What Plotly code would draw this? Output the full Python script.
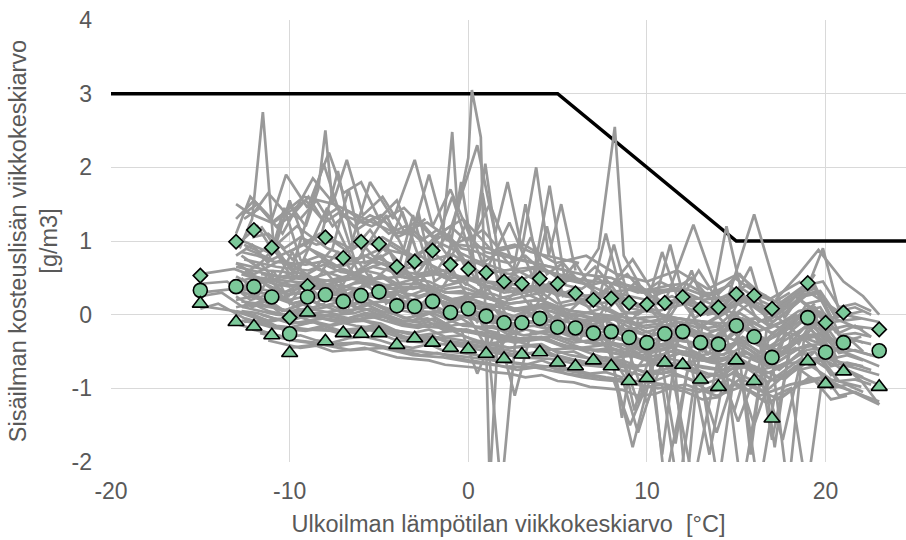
import plotly.graph_objects as go

# Raja-arvokäyrä (kosteuslisä, g/m3) ulkolämpötilan funktiona
raja_t = [-20, 5, 15, 25]
raja_g = [3, 3, 1, 1]

# Akselien jaotus
x_arvot = [-20, -10, 0, 10, 20]
x_tekstit = ["-20", "-10", "0", "10", "20"]
y_arvot = [-2, -1, 0, 1, 2, 3, 4]
y_tekstit = ["-2", "-1", "0", "1", "2", "3", "4"]

# Viikkotilastot: lämpötila-luokat ja yläraja / keskiarvo / alaraja
tilasto_t = [-15, -13, -12, -11, -10, -9, -8, -7, -6, -5, -4, -3, -2, -1, 0, 1, 2, 3, 4, 5,
             6, 7, 8, 9, 10, 11, 12, 13, 14, 15, 16, 17, 19, 20, 21, 23]
yla = [0.53, 0.99, 1.15, 0.91, -0.04, 0.39, 1.05, 0.77, 0.99, 0.96, 0.65, 0.72, 0.87, 0.68,
       0.62, 0.57, 0.45, 0.42, 0.49, 0.42, 0.29, 0.20, 0.22, 0.16, 0.14, 0.16, 0.24, 0.08,
       0.10, 0.28, 0.26, 0.08, 0.43, -0.11, 0.03, -0.20]
keski = [0.33, 0.38, 0.38, 0.24, -0.26, 0.24, 0.27, 0.18, 0.26, 0.31, 0.12, 0.11, 0.18, 0.03,
         0.08, -0.02, -0.11, -0.11, -0.05, -0.17, -0.18, -0.25, -0.23, -0.31, -0.38, -0.26,
         -0.23, -0.38, -0.40, -0.15, -0.30, -0.58, -0.04, -0.51, -0.38, -0.49]
ala = [0.15, -0.10, -0.16, -0.28, -0.52, 0.03, -0.36, -0.25, -0.26, -0.25, -0.41, -0.32,
       -0.38, -0.45, -0.47, -0.53, -0.60, -0.54, -0.51, -0.65, -0.70, -0.62, -0.70, -0.90,
       -0.86, -0.65, -0.68, -0.88, -0.98, -0.62, -0.90, -1.41, -0.63, -0.94, -0.77, -0.98]

# Kohdekohtaiset viikkoarvot (lämpötila, kosteuslisä)
lampo_a = [-15.0, -13.1, -11.2, -9.6, -7.9, -6.2, -4.4, -2.7, -0.9, 0.8, 2.6, 4.3, 6.0, 7.7,
           9.4, 11.1, 12.9, 14.6, 16.3, 18.0, 19.8, 21.5, 23.0]
talo_a1 = [0.55, 0.62, 0.45, 0.58, 0.41, 0.52, 0.30, 0.38, 0.21, 0.25, 0.08, 0.15, -0.02, 0.10,
           -0.12, -0.05, -0.18, 0.05, -0.22, -0.05, 0.02, -0.15, -0.20]
talo_a2 = [0.12, 0.05, -0.10, -0.02, -0.15, -0.05, -0.20, -0.28, -0.22, -0.40, -0.35, -0.48,
           -0.45, -0.60, -0.55, -0.70, -0.62, -0.58, -0.75, -0.66, -0.60, -0.80, -0.95]
talo_a3 = [None, 1.05, 0.85, 1.20, 0.90, 0.75, 0.95, 0.70, 0.82, 0.55, 0.62, 0.40, 0.48, 0.30,
           0.35, 0.15, 0.22, 0.40, 0.05, 0.30, None, None, None]
talo_a4 = [0.30, 0.35, 0.18, 0.30, 0.20, 0.28, 0.05, 0.15, -0.05, 0.02, -0.15, -0.05, -0.25,
           -0.18, -0.35, -0.22, -0.45, -0.20, -0.52, -0.25, -0.40, -0.55, -0.70]
talo_a5 = [None, -0.12, -0.25, -0.35, -0.40, -0.38, -0.45, -0.50, -0.55, -0.60, -0.65, -0.70,
           -0.78, -0.85, -0.90, -0.95, -1.05, -0.88, -1.10, -0.95, -0.85, -1.05, -1.22]
talo_a6 = [None, None, 0.95, 0.55, 1.45, 0.60, 0.85, 0.40, 1.60, 0.30, 0.55, 0.20, 0.70, 0.05,
           0.45, -0.10, 0.60, -0.05, 0.25, 0.10, None, None, None]

lampo_b = [-13.0, -12.0, -10.4, -8.7, -7.0, -5.4, -3.6, -2.0, -0.3, 1.4, 3.1, 4.9, 6.6, 8.3,
           10.0, 11.7, 13.4, 15.1, 16.8, 18.6, 20.3, 22.0]
talo_b1 = [1.30, 1.55, 1.10, 1.85, 1.35, 1.20, 1.45, 1.05, 1.30, 0.85, 0.95, 0.70, 0.80, 0.55,
           0.45, 0.60, 0.35, 0.55, 0.20, 0.45, None, None]
talo_b2 = [0.20, 0.25, 0.05, 0.18, 0.02, 0.15, -0.05, 0.02, -0.15, -0.18, -0.28, -0.22, -0.38,
           -0.30, -0.52, -0.40, -0.60, -0.35, -0.68, -0.30, -0.62, -0.70]
talo_b3 = [0.70, 0.55, 0.75, 0.50, 0.62, 0.48, 0.52, 0.35, 0.45, 0.20, 0.30, 0.10, 0.18, 0.00,
           0.05, -0.05, -0.10, 0.15, -0.15, 0.20, -0.10, -0.05]
talo_b4 = [None, 0.00, -0.20, -0.10, -0.25, -0.15, -0.30, -0.32, -0.38, -0.45, -0.52, -0.55,
           -0.65, -0.62, -0.80, -0.70, -0.85, -0.65, -0.92, -0.60, -0.88, -0.98]
talo_b5 = [0.45, 0.50, 0.30, 0.40, 0.25, 0.45, 0.15, 0.30, 0.10, -0.60, 0.05, -0.05, -0.15,
           -0.05, -1.20, -0.10, -0.30, -1.45, -0.35, 0.00, -0.40, -0.30]

lampo_c = [-12.5, -11.0, -9.2, -7.5, -5.8, -4.0, -2.3, -0.6, 1.1, 2.9, 4.6, 6.3, 8.0, 9.7,
           11.4, 13.1, 14.8, 16.6, 18.3, 20.0]
talo_c1 = [0.90, 0.75, 0.95, 0.65, 0.80, 0.60, 0.70, 0.50, 0.45, 0.40, 0.35, 0.25, 0.30, 0.10,
           0.25, 0.05, 0.30, 0.00, 0.25, -0.10]
talo_c2 = [0.15, 0.10, 0.00, 0.05, 0.08, -0.10, -0.05, -0.20, -0.25, -0.32, -0.30, -0.45,
           -0.40, -0.55, -0.45, -0.62, -0.50, -0.68, -0.45, -0.72]
talo_c3 = [0.60, 0.35, 0.55, 0.30, 0.50, 0.20, 0.35, 0.15, 0.10, -0.05, 0.05, -0.10, -0.05,
           -0.25, -0.15, -0.30, -0.10, -0.35, 0.00, -0.40]
talo_c4 = [1.40, 1.25, 1.60, 1.50, 1.30, 1.10, 1.25, 0.95, 0.90, 0.75, 0.65, 0.55, 0.50, 0.30,
           0.35, 0.20, 0.25, None, None, None]
talo_c5 = [-0.05, -0.15, -0.20, -0.22, -0.18, -0.35, -0.38, -0.42, -0.50, -0.58, -0.60, -0.68,
           -0.72, -0.82, -0.78, -0.95, -0.80, -1.05, -0.70, -1.00]

lampo_d = [-10.0, -8.3, -6.6, -4.8, -3.1, -1.4, 0.3, 2.0, 3.8, 5.5, 7.2, 8.9, 10.6, 12.2,
           13.9, 15.6, 17.4, 19.1, 21.0, 23.0]
talo_d1 = [0.65, 0.80, 0.55, 0.70, 0.50, 0.60, 0.45, 0.30, 0.35, 0.25, 0.15, 0.20, 0.05, 0.15,
           0.00, 0.20, -0.05, 0.30, 0.00, -0.10]
talo_d2 = [-0.05, 0.00, -0.08, -0.02, -0.15, -0.18, -0.25, -0.35, -0.30, -0.45, -0.48, -0.55,
           -0.62, -0.50, -0.65, -0.52, -0.75, -0.40, -0.68, -0.82]
talo_d3 = [0.30, 0.25, 0.35, 0.20, 0.15, 0.18, 0.05, -0.05, -0.10, -0.20, -0.25, -0.90, -0.35,
           -0.30, -1.60, -0.30, -0.55, -0.10, -0.45, -0.58]
talo_d4 = [0.85, 1.10, 0.90, 1.05, 0.80, 0.95, 0.75, 0.60, 0.65, 0.50, 0.45, 0.40, 0.30, 0.35,
           0.20, 0.40, 0.15, 0.45, None, None]
talo_d5 = [-0.45, -0.40, -0.48, -0.45, -0.55, -0.58, -0.65, -0.70, -0.72, -0.80, -0.85, -0.92,
           -1.00, -0.95, -1.10, -0.95, -1.15, -0.85, -1.00, -1.18]

lampo_e = [-11.6, -9.9, -8.1, -6.3, -4.6, -2.9, -1.1, 0.6, 2.3, 4.0, 5.7, 7.5, 9.2, 10.9,
           12.6, 14.3, 16.0, 17.7, 19.4]
talo_e1 = [0.55, 0.50, 0.45, 0.55, 0.40, 0.42, 0.30, 0.28, 0.15, 0.20, 0.05, 0.00, -0.05,
           -0.02, -0.08, -0.12, -0.05, -0.20, 0.15]
talo_e2 = [0.30, 0.15, 0.25, 0.15, 0.18, 0.05, 0.02, -0.08, -0.12, -0.10, -0.25, -0.28, -0.38,
           -0.32, -0.38, -0.42, -0.35, -0.52, -0.15]
talo_e3 = [1.20, 0.60, 2.05, 0.70, 1.35, 0.55, 1.10, 0.40, 1.25, 0.30, 0.55, 0.25, 0.75, 0.10,
           1.22, 0.05, 1.36, -0.05, 0.55]
talo_e4 = [0.00, -0.12, -0.05, -0.15, -0.20, -0.28, -0.32, -0.38, -0.45, -0.42, -0.55, -0.62,
           -0.70, -0.65, -0.68, -0.75, -0.70, -0.88, -0.50]
talo_e5 = [0.50, 0.45, 0.40, 0.50, 0.35, 0.38, 0.20, 0.15, 0.08, 0.10, -0.05, -0.10, -1.80,
           -0.15, -2.30, -0.20, -1.50, -0.30, 0.05]

lampo_f = [-13.0, -12.1, -11.2, -10.3, -9.4, -8.5, -7.6, -6.7, -5.8, -4.9, -4.0, -3.1, -2.2,
           -1.3, -0.4, 0.5, 1.4, 2.3, 3.2, 4.1, 5.0, 5.9, 6.8, 7.7, 8.6, 9.5, 10.4, 11.3, 12.2,
           13.1, 14.0, 14.9, 15.8, 16.7, 17.6, 18.5, 19.4, 20.3, 21.2, 22.1]
talo_f1 = [0.52, 0.40, 0.48, 0.30, 0.42, 0.35, 0.38, 0.25, 0.40, 0.30, 0.28, 0.20, 0.30, 0.12,
           0.22, 0.10, 0.08, -0.05, 0.05, 0.10, -0.10, -0.02, -0.15, -0.08, -0.20, -0.18, -0.28,
           -0.12, -0.22, -0.25, -0.30, -0.05, -0.20, -0.35, -0.25, -0.05, -0.08, -0.35, -0.30,
           -0.38]
talo_f2 = [0.80, 0.95, 0.70, 1.45, 0.75, 0.65, 0.90, 1.70, 0.70, 0.80, 0.55, 1.35, 0.60, 0.50,
           1.80, 0.45, 0.60, 0.30, 1.50, 0.40, 0.25, 0.35, 0.20, 1.10, 0.25, 0.10, 0.20, 0.15,
           0.30, 0.05, 0.10, 0.25, 0.15, 0.00, 0.10, 0.30, 0.35, -0.05, 0.05, None]
talo_f3 = [0.05, 0.00, -0.08, -0.05, -0.12, -0.10, -0.15, -0.10, -0.08, -0.12, -0.22, -0.25,
           -0.20, -0.30, -0.28, -0.35, -0.40, -0.45, -0.42, -0.40, -0.52, -0.50, -0.60, -0.58,
           -0.62, -0.70, -0.68, -0.60, -0.65, -0.72, -0.75, -0.55, -0.68, -0.80, -0.70, -0.55,
           -0.50, -0.82, -0.75, -0.85]
talo_f4 = [0.65, 0.60, 0.55, 0.50, 0.52, 0.48, 0.45, 0.50, 0.45, 0.52, 0.38, 0.35, 0.40, 0.30,
           0.32, 0.25, 0.20, 0.15, 0.18, 0.20, 0.10, 0.05, 0.02, -0.02, -1.40, -0.05, -0.10,
           0.00, -2.40, -0.10, -0.15, 0.05, -1.90, -0.20, -0.10, 0.05, 0.10, -0.20, -0.15, -0.20]
talo_f5 = [0.25, 0.10, 0.20, 0.05, 0.15, 0.08, 0.12, 0.02, 0.15, 0.05, 0.00, -0.08, 0.02,
           -0.12, -0.05, -0.18, -0.15, -0.28, -0.20, -0.25, -0.30, -0.38, -0.35, -0.42, -0.40,
           -0.52, -0.45, -0.40, -0.45, -0.55, -0.50, -0.38, -0.48, -0.62, -0.50, -0.35, -0.30,
           -0.60, -0.55, -0.62]
talo_f6 = [None, 1.05, 1.10, 0.90, 1.05, 0.95, 1.00, 0.85, 1.00, 0.90, 0.85, 0.80, 0.90, 0.70,
           0.75, 0.70, 0.60, 0.55, 0.60, 0.65, 0.50, 0.45, 0.40, 0.45, 0.38, 0.30, 0.35, 0.40,
           0.42, 0.30, 0.28, 0.50, 0.35, 0.25, None, None, None, None, None, None]
talo_f7 = [None, -0.20, -0.25, -0.30, -0.28, -0.35, -0.38, -0.32, -0.30, -0.35, -0.42, -0.45,
           -0.40, -0.50, -0.52, -0.55, -0.62, -0.65, -0.68, -0.62, -0.70, -0.75, -0.80, -0.78,
           -0.85, -1.60, -0.90, -0.82, -0.85, -0.95, -2.30, -0.78, -0.88, -1.00, -1.70, -0.75,
           -0.70, -1.00, -0.95, -1.05]
talo_f8 = [0.45, 0.30, 0.55, 0.20, 0.40, 0.15, 0.35, 0.10, 0.45, 0.20, 0.30, 0.00, 0.25, -0.05,
           0.20, -0.10, 0.10, -0.20, 0.05, -0.15, 0.00, -0.30, -0.10, -0.35, -0.15, -0.45, -0.25,
           -0.40, -0.10, -0.50, -0.25, -0.35, -0.10, -0.60, -0.20, -0.40, 0.00, -0.55, -0.30,
           -0.50]
talo_f9 = [1.50, 1.35, 1.65, 1.40, 1.30, 1.55, 1.20, 1.40, 1.25, 1.35, 1.05, 1.15, 0.95, 1.10,
           0.90, 0.85, 0.75, 0.70, 0.80, 0.60, 0.55, 0.50, 0.45, None, None, None, None, None,
           None, None, None, None, None, None, None, None, None, None, None, None]
talo_f10 = [None, None, -0.35, -0.40, -0.45, -0.42, -0.50, -0.48, -0.45, -0.52, -0.58, -0.60,
            -0.62, -0.68, -0.70, -0.72, -0.78, -0.80, -0.85, -0.82, -0.90, -0.92, -0.98, -1.00,
            -1.02, -1.10, -1.08, -1.00, -1.05, -1.15, -1.12, -0.95, -1.05, -1.20, -1.10, -0.95,
            -0.90, -1.15, -1.10, None]
talo_f11 = [0.70, 0.65, 0.60, 0.58, 0.50, 0.62, 0.55, 0.48, 0.60, 0.55, 0.42, 0.48, 0.45, 0.35,
            0.38, 0.30, 0.28, 0.20, 0.25, 0.30, 0.15, 0.20, 0.10, 0.35, 0.05, 0.00, 0.15, 0.95,
            0.10, 0.00, 0.05, 0.25, 0.65, -0.10, 0.05, 0.30, 0.40, -0.05, 0.00, 0.05]
talo_f12 = [0.10, 0.15, 0.05, 0.00, 0.05, -0.02, 0.00, -0.05, 0.02, 0.00, -0.12, -0.15, -0.10,
            -0.22, -0.20, -0.80, -0.30, -0.35, -0.32, -0.30, -0.40, -0.45, -0.48, -0.50, -0.55,
            -1.20, -0.60, -0.50, -0.55, -0.62, -0.65, -1.30, -0.58, -0.70, -0.60, -0.45, -0.42,
            -0.70, -0.65, -0.70]

lampo_g = [-12.55, -11.65, -10.75, -9.85, -8.95, -8.05, -7.15, -6.25, -5.35, -4.45, -3.55,
           -2.65, -1.75, -0.85, 0.05, 0.95, 1.85, 2.75, 3.65, 4.55, 5.45, 6.35, 7.25, 8.15,
           9.05, 9.95, 10.85, 11.75, 12.65, 13.55, 14.45, 15.35, 16.25, 17.15, 18.05, 18.95,
           19.85, 20.75, 21.65, 22.55]
talo_g1 = [0.95, 0.85, 1.00, 0.75, 0.90, 0.80, 0.75, 1.05, 0.80, 0.70, 0.65, 0.80, 0.60, 0.95,
           0.55, 2.05, 0.50, 0.45, 0.55, 1.75, 0.40, 0.35, 0.50, 0.30, 0.25, 0.20, 0.30, 0.35,
           0.25, 0.15, 0.20, 0.35, 0.20, 0.10, 0.25, 0.40, 0.45, 0.10, 0.15, 0.05]
talo_g2 = [0.30, 0.20, 0.25, 0.15, 0.20, 0.12, 0.18, 0.10, 0.15, 0.08, 0.05, 0.00, 0.05, -0.05,
           -0.02, -0.10, -0.12, -0.18, -0.15, -0.20, -0.25, -0.28, -0.32, -0.30, -0.38, -0.42,
           -0.40, -0.35, -0.38, -0.45, -0.48, -0.30, -0.42, -0.50, -0.40, -0.28, -0.25, -0.52,
           -0.48, -0.55]
talo_g3 = [0.55, 0.70, 0.45, 0.85, 0.40, 0.60, 0.35, 0.75, 0.45, 0.65, 0.30, 0.55, 0.25, 0.60,
           0.20, 0.40, 0.10, 0.35, 0.05, 0.45, 0.00, 0.20, -0.05, 0.30, -0.10, 0.15, -0.12, 0.25,
           -0.05, 0.10, -0.15, 0.30, -0.10, 0.00, -0.20, 0.15, 0.20, -0.25, -0.15, -0.30]
talo_g4 = [-0.10, -0.08, -0.15, -0.18, -0.20, -0.15, -0.22, -0.25, -0.20, -0.22, -0.30, -0.35,
           -0.32, -0.40, -0.42, -0.45, -0.50, -0.55, -0.52, -0.55, -0.60, -0.65, -0.68, -0.70,
           -0.72, -0.78, -0.80, -0.72, -0.75, -0.82, -0.85, -0.68, -0.78, -0.90, -0.80, -0.65,
           -0.62, -0.90, -0.88, -0.95]
talo_g5 = [0.40, 0.35, 0.30, 0.28, 0.32, 0.25, 0.28, 0.22, 0.30, 0.25, 0.18, 0.15, 0.20, 0.10,
           0.12, 0.05, -2.40, -0.05, 0.00, -0.02, -0.10, -0.12, -0.15, -0.20, -0.22, -0.28,
           -1.90, -0.22, -0.25, -0.30, -0.35, -0.15, -0.25, -1.80, -0.30, -0.15, -0.10, -0.40,
           -0.35, -0.40]
talo_g6 = [1.30, 1.45, 1.20, 1.35, 1.60, 1.25, 1.40, 1.15, 1.30, 1.10, 1.20, 1.00, 1.15, 0.95,
           1.05, 0.85, 0.80, 0.75, 0.70, 0.65, 0.60, None, None, None, None, None, None, None,
           None, None, None, None, None, None, None, None, None, None, None, None]
talo_g7 = [0.10, 0.05, 0.00, -0.02, 0.02, -0.05, -0.08, -0.02, 0.00, -0.05, -0.12, -0.15,
           -0.12, -0.20, -0.22, -0.28, -0.30, -0.35, -0.32, -0.35, -0.42, -0.45, -0.50, -0.48,
           -0.55, -0.62, -0.60, -0.52, -0.58, -0.65, -0.68, -0.50, -0.60, -0.72, -0.62, -0.48,
           -0.45, -0.72, -0.68, -0.75]
talo_g8 = [0.75, 0.70, 0.65, 0.62, 0.60, 0.68, 0.58, 0.55, 0.65, 0.60, 0.50, 0.52, 0.55, 0.45,
           0.48, 0.40, 0.35, 0.30, 0.32, 0.35, 0.25, 0.22, 0.18, 0.95, 0.15, 0.10, 0.85, 0.20,
           0.15, 0.05, 1.20, 0.25, 0.15, 0.05, 0.20, 0.35, 0.90, 0.05, 0.10, 0.00]
talo_g9 = [None, -0.25, -0.30, -0.35, -0.38, -0.40, -0.42, -0.38, -0.40, -0.45, -0.50, -0.55,
           -0.52, -0.58, -0.62, -0.65, -0.70, -0.75, -0.72, -0.70, -0.80, -0.85, -0.88, -0.90,
           -1.50, -0.98, -0.95, -2.40, -0.92, -1.05, -1.00, -0.85, -2.40, -1.10, -1.00, -2.40,
           -0.80, -1.10, -1.05, -1.15]
talo_g10 = [0.55, 0.50, 0.45, 0.40, 0.42, 0.38, 0.40, 0.35, 0.42, 0.38, 0.28, 0.25, 0.30, 0.20,
            0.22, 0.15, 0.10, 0.05, 0.08, 0.10, 0.00, -0.02, -0.08, -0.05, -0.12, -0.18, -0.15,
            -0.10, -0.12, -0.22, -0.20, -0.05, -0.15, -0.28, -0.18, -0.02, 0.02, -0.28, -0.25,
            -0.30]

lampo_h = [-12.7, -11.8, -10.9, -10.0, -9.1, -8.2, -7.3, -6.4, -5.5, -4.6, -3.7, -2.8, -1.9,
           -1.0, -0.1, 0.8, 1.7, 2.6, 3.5, 4.4, 5.3, 6.2, 7.1, 8.0, 8.9, 9.8, 10.7, 11.6, 12.5,
           13.4, 14.3, 15.2, 16.1, 17.0, 17.9, 18.8, 19.7, 20.6]
talo_h1 = [0.80, 0.65, 0.90, 0.55, 0.75, 0.60, 0.85, 0.55, 0.70, 0.95, 0.50, 1.40, 0.45, 0.60,
           0.40, 1.65, 0.35, 0.50, 0.30, 1.20, 0.25, 0.30, 0.15, 0.40, 0.10, 0.05, 0.20, 0.10,
           0.60, 0.00, 0.05, 0.20, 0.10, -0.10, 0.05, 0.25, 0.30, -0.05]
talo_h2 = [0.35, 0.30, 0.28, 0.20, 0.25, 0.22, 0.18, 0.15, 0.25, 0.20, 0.10, 0.08, 0.12, 0.02,
           0.05, -0.05, -0.08, -0.12, -0.10, -0.08, -0.18, -0.20, -0.25, -0.22, -0.28, -0.35,
           -0.32, -0.25, -0.28, -0.38, -0.35, -0.15, -0.30, -0.45, -0.32, -0.18, -0.12, -0.42]
talo_h3 = [1.00, 1.20, 0.85, 1.55, 0.95, 1.10, 1.95, 0.90, 1.15, 0.85, 1.40, 0.80, 1.05, 0.75,
           1.25, 0.70, 0.85, 0.60, 1.05, 0.55, 0.70, 0.45, 0.65, 0.40, 0.55, 0.30, 0.45, 0.35,
           0.50, 0.25, 0.35, 0.55, 0.30, 0.20, None, None, None, None]
talo_h4 = [0.18, 0.15, 0.10, 0.05, 0.08, 0.05, 0.00, 0.02, 0.08, 0.00, -0.08, -0.10, -0.05,
           -0.15, -0.12, -0.20, -0.25, -1.10, -0.25, -0.22, -0.32, -0.35, -0.40, -0.38, -0.42,
           -0.50, -0.48, -1.75, -0.42, -0.52, -0.55, -0.35, -0.48, -0.60, -2.40, -0.30, -0.28,
           -0.58]
talo_h5 = [0.55, 0.48, 0.42, 0.38, 0.45, 0.40, 0.35, 0.42, 0.45, 0.38, 0.30, 0.25, 0.32, 0.20,
           0.25, 0.15, 0.12, 0.05, 0.10, 0.12, 0.02, 0.00, -0.05, -0.02, -0.10, -0.15, -0.12,
           -0.05, -0.08, -0.18, -0.15, 0.02, -0.12, -0.25, -0.12, 0.05, 0.10, -0.25]
talo_h6 = [-0.08, -0.12, -0.18, -0.20, -0.22, -0.18, -0.25, -0.22, -0.20, -0.25, -0.32, -0.35,
           -0.30, -0.40, -0.38, -0.45, -0.50, -0.55, -0.52, -0.50, -0.60, -0.62, -0.68, -0.66,
           -0.70, -0.78, -0.76, -0.70, -0.72, -0.80, -0.82, -0.65, -0.75, -0.88, -0.78, -0.62,
           -0.58, -0.88]
talo_h7 = [0.85, 0.80, 0.72, 0.70, 0.68, 0.72, 0.65, 0.70, 0.72, 0.68, 0.58, 0.55, 0.60, 0.50,
           0.52, 0.45, 0.40, 0.35, 0.38, 0.40, 0.30, 0.28, 0.22, 0.25, 0.18, 0.12, 0.15, 0.20,
           0.18, 0.10, 0.08, 0.25, 0.12, 0.00, 0.10, 0.28, 0.32, 0.00]
talo_h8 = [0.50, 0.25, 0.60, 0.15, 0.45, 0.20, 0.50, 0.10, 0.55, 0.15, 0.35, -0.05, 0.40, -0.10,
           0.30, -0.15, 0.20, -0.25, 0.15, -0.20, 0.05, -0.35, 0.00, -0.40, -0.05, -0.50, -0.10,
           -0.45, 0.05, -0.55, -0.15, -0.05, -0.30, -0.65, -0.15, -0.35, 0.05, -0.60]
talo_h9 = [1.35, 1.50, 1.25, 1.40, 1.55, 1.30, 1.45, 1.20, 1.35, 1.25, 1.10, 1.30, 1.05, 1.20,
           1.00, 1.15, 0.90, 0.95, 0.85, 0.80, 0.75, 0.70, None, None, None, None, None, None,
           None, None, None, None, None, None, None, None, None, None]
talo_h10 = [0.05, 0.02, -0.05, -0.08, -0.02, -0.05, -0.10, -0.08, -0.02, -0.08, -0.15, -0.18,
            -0.12, -0.22, -0.20, -0.28, -0.32, -0.38, -0.35, -0.32, -0.42, -0.45, -0.48, -0.45,
            -0.52, -0.58, -0.55, -0.48, -0.52, -0.62, -0.60, -0.45, -0.58, -0.70, -0.55, -0.42,
            -0.40, -0.68]

# Yksittäiset kohteet, joilla on lyhyempi mittausjakso
talo_i_t = [-12.8, -12.1, -11.5, -10.9, -10.0, -9.1, -8.4, -8.0, -7.6, -6.8, -5.9, -4.8, -3.5, -2.4]
talo_i_g = [0.9, 1.3, 2.75, 0.95, 1.5, 1.2, 1.7, 2.5, 1.5, 2.1, 1.35, 1.6, 1.1, 1.3]
talo_j_t = [-13.0, -12.2, -11.0, -10.2, -9.0, -7.8, -7.0, -6.0, -5.0, -4.0, -3.0]
talo_j_g = [1.1, 1.6, 1.3, 1.9, 1.45, 2.2, 1.65, 1.8, 1.3, 1.55, 0.95]
talo_k_t = [-1.5, -0.9, -0.6, 0.0, 0.2, 0.7, 1.2, 1.8, 2.7]
talo_k_g = [0.9, 2.48, 1.4, 2.13, 3.05, 2.41, -2.3, 0.3, 0.5]
talo_l_t = [6.5, 7.3, 8.2, 8.7, 9.6, 10.5]
talo_l_g = [0.6, 0.9, 2.55, 0.8, 0.4, 0.2]
talo_m_t = [17.2, 18.5, 19.6, 21.0, 22.1, 23.0]
talo_m_g = [0.2, 0.55, 0.88, 0.45, 0.25, 0.0]
talo_n_t = [18.0, 19.2, 20.5, 22.0, 23.0]
talo_n_g = [-0.4, -0.2, -0.6, -0.9, -1.22]
talo_o_t = [-15.0, -13.5, -12.2, -10.8, -9.3, -8.0]
talo_o_g = [0.42, 0.45, 0.20, 0.30, 0.05, 0.15]
talo_p_t = [-3.5, -2.2, -1.2, 0.5, 1.5, 2.2, 3.0, 3.8, 4.5, 5.2, 6.0]
talo_p_g = [0.8, 1.9, 1.0, 2.3, 1.1, 1.8, 0.9, 2.0, 0.8, 1.5, 0.6]
talo_q_t = [-6.5, -5.5, -4.2, -3.0, -2.0, -1.0, 0.2, 1.2, 2.5]
talo_q_g = [1.0, 1.8, 1.3, 2.1, 1.2, 1.7, 1.0, 1.5, 0.7]
talo_r_t = [8.5, 9.3, 10.2, 11.0, 12.4, 13.5, 14.4, 15.3, 16.4, 17.0, 18.0]
talo_r_g = [-0.4, -1.3, -0.5, -2.3, -0.6, -1.9, -0.7, -2.4, -0.8, -1.7, -0.5]
talo_s_t = [-15.0, -13.8, -12.6, -11.4, -10.2]
talo_s_g = [0.25, 0.30, 0.10, 0.20, -0.05]
talo_u_t = [-15.0, -14.0, -12.9, -11.8]
talo_u_g = [0.08, 0.15, 0.00, -0.15]

kohteet = [
    (lampo_a, talo_a1), (lampo_a, talo_a2), (lampo_a, talo_a3), (lampo_a, talo_a4),
    (lampo_a, talo_a5), (lampo_a, talo_a6),
    (lampo_b, talo_b1), (lampo_b, talo_b2), (lampo_b, talo_b3), (lampo_b, talo_b4),
    (lampo_b, talo_b5),
    (lampo_c, talo_c1), (lampo_c, talo_c2), (lampo_c, talo_c3), (lampo_c, talo_c4),
    (lampo_c, talo_c5),
    (lampo_d, talo_d1), (lampo_d, talo_d2), (lampo_d, talo_d3), (lampo_d, talo_d4),
    (lampo_d, talo_d5),
    (lampo_e, talo_e1), (lampo_e, talo_e2), (lampo_e, talo_e3), (lampo_e, talo_e4),
    (lampo_e, talo_e5),
    (lampo_f, talo_f1), (lampo_f, talo_f2), (lampo_f, talo_f3), (lampo_f, talo_f4),
    (lampo_f, talo_f5), (lampo_f, talo_f6), (lampo_f, talo_f7), (lampo_f, talo_f8),
    (lampo_f, talo_f9), (lampo_f, talo_f10), (lampo_f, talo_f11), (lampo_f, talo_f12),
    (lampo_g, talo_g1), (lampo_g, talo_g2), (lampo_g, talo_g3), (lampo_g, talo_g4),
    (lampo_g, talo_g5), (lampo_g, talo_g6), (lampo_g, talo_g7), (lampo_g, talo_g8),
    (lampo_g, talo_g9), (lampo_g, talo_g10),
    (lampo_h, talo_h1), (lampo_h, talo_h2), (lampo_h, talo_h3), (lampo_h, talo_h4),
    (lampo_h, talo_h5), (lampo_h, talo_h6), (lampo_h, talo_h7), (lampo_h, talo_h8),
    (lampo_h, talo_h9), (lampo_h, talo_h10),
    (talo_i_t, talo_i_g), (talo_j_t, talo_j_g), (talo_k_t, talo_k_g), (talo_l_t, talo_l_g),
    (talo_m_t, talo_m_g), (talo_n_t, talo_n_g), (talo_o_t, talo_o_g), (talo_p_t, talo_p_g),
    (talo_q_t, talo_q_g), (talo_r_t, talo_r_g), (talo_s_t, talo_s_g), (talo_u_t, talo_u_g),
]

HARMAA = "#999999"
VIHREA = "#7cc99a"
TEKSTI = "#595959"
FONTTI = "Liberation Sans, Arial, sans-serif"

fig = go.Figure()

# Raja-arvokäyrä
fig.add_trace(go.Scatter(x=raja_t, y=raja_g, mode="lines",
                         line=dict(color="black", width=3.5), hoverinfo="skip"))

# Kohteiden viikkoarvot
for t, g in kohteet:
    fig.add_trace(go.Scatter(x=t, y=g, mode="lines",
                             line=dict(color=HARMAA, width=2.7), hoverinfo="skip"))

reuna = dict(color="black", width=1.6)
fig.add_trace(go.Scatter(x=tilasto_t, y=yla, mode="markers",
                         marker=dict(symbol="diamond", size=11, color=VIHREA, line=reuna)))
fig.add_trace(go.Scatter(x=tilasto_t, y=keski, mode="markers",
                         marker=dict(symbol="circle", size=14, color=VIHREA, line=reuna)))
fig.add_trace(go.Scatter(x=tilasto_t, y=ala, mode="markers",
                         marker=dict(symbol="triangle-up", size=14, color=VIHREA, line=reuna)))

fig.update_layout(
    width=906, height=540,
    margin=dict(l=111, r=0, t=20, b=78),
    paper_bgcolor="white", plot_bgcolor="white",
    showlegend=False,
    font=dict(family=FONTTI, size=23, color=TEKSTI),
)
fig.update_xaxes(
    range=[-20, 24.5], tickvals=x_arvot, ticktext=x_tekstit,
    showgrid=True, gridcolor="#d9d9d9", gridwidth=1.3, zeroline=False,
    ticks="", ticklabelstandoff=13,
    title=dict(text="Ulkoilman lämpötilan viikkokeskiarvo\u00a0\u00a0[°C]", standoff=12,
               font=dict(size=23.5, color=TEKSTI)),
)
fig.update_yaxes(
    range=[-2, 4], tickvals=y_arvot, ticktext=y_tekstit,
    showgrid=True, gridcolor="#d9d9d9", gridwidth=1.3, zeroline=False,
    ticks="", ticklabelstandoff=18,
    title=dict(text="Sisäilman kosteuslisän viikkokeskiarvo<br>[g/m3]", standoff=7,
               font=dict(size=23.5, color=TEKSTI)),
)

fig.write_html("out.html")
